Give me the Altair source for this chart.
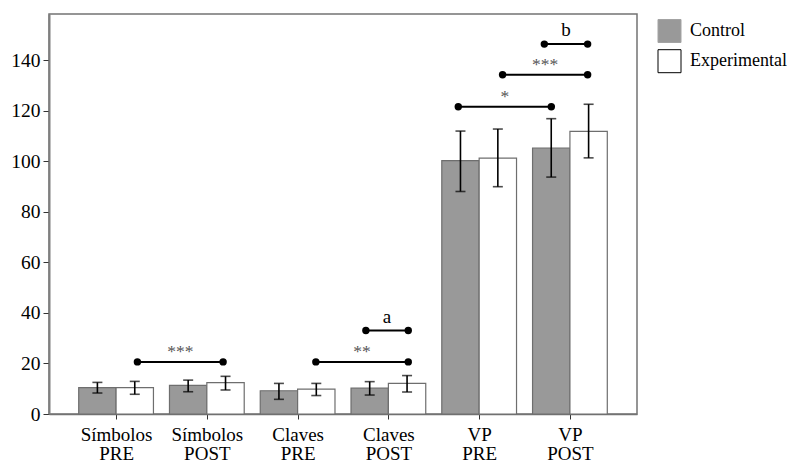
import json
import altair as alt
import pandas as pd

# ---- data ----
categories = [["Símbolos", "PRE"], ["Símbolos", "POST"], ["Claves", "PRE"],
              ["Claves", "POST"], ["VP", "PRE"], ["VP", "POST"]]
groups = ["Control", "Experimental"]

control_mean = [10.4, 11.3, 9.2, 10.2, 100.2, 105.2]
control_low = [8.3, 8.8, 5.8, 7.5, 88.0, 93.7]
control_high = [12.5, 13.4, 12.1, 12.8, 111.9, 116.8]

exp_mean = [10.4, 12.4, 9.8, 12.1, 101.2, 111.8]
exp_low = [7.8, 9.5, 7.3, 8.7, 89.9, 101.3]
exp_high = [12.9, 14.9, 12.1, 15.2, 112.7, 122.5]

bracket_labels = ["***", "**", "a", "*", "***", "b"]
bracket_y = [20.6, 20.6, 33.0, 121.5, 134.2, 146.3]
bracket_start = [0.235, 2.201, 2.752, 3.770, 4.258, 4.718]
bracket_end = [1.179, 3.219, 3.219, 4.795, 5.195, 5.195]

y_ticks = [0, 20, 40, 60, 80, 100, 120, 140]

# ---- tables ----
BW = 0.4117  # bar width in category units
rows = []
for i in range(len(categories)):
    for g, m, lo, hi in [("Control", control_mean[i], control_low[i], control_high[i]),
                         ("Experimental", exp_mean[i], exp_low[i], exp_high[i])]:
        xs = i - BW if g == "Control" else i
        rows.append({"cat": i, "group": g, "mean": m, "lo": lo, "hi": hi,
                     "xs": xs, "xe": xs + BW, "xc": xs + BW / 2})
bars = pd.DataFrame(rows)

br = pd.DataFrame({"label": bracket_labels, "y": bracket_y,
                   "x1": bracket_start, "x2": bracket_end})
br["xm"] = (br["x1"] + br["x2"]) / 2
br["kind"] = ["star" if "*" in s else "letter" for s in bracket_labels]
dots = pd.concat([br[["x1", "y"]].rename(columns={"x1": "x"}),
                  br[["x2", "y"]].rename(columns={"x2": "x"})])

FONT = "Liberation Serif"
xscale = alt.Scale(domain=[-0.739, 5.739], nice=False, zero=False)
yscale = alt.Scale(domain=[0, 158.2], nice=False, zero=True)
fill_scale = alt.Scale(domain=groups, range=["#999999", "#ffffff"])
stroke_scale = alt.Scale(domain=groups, range=["#a3a3a3", "#000000"])

label_arr = json.dumps(categories, ensure_ascii=False)
xaxis = alt.Axis(values=list(range(len(categories))), labelExpr=f"{label_arr}[datum.value]",
                 title=None, grid=False, labelFont=FONT, labelFontSize=19, labelColor="black",
                 labelLineHeight=19, labelPadding=6, tickSize=5, tickColor="#333333",
                 domainColor="#737373", domainWidth=1.5, labelBaseline="top")
yaxis = alt.Axis(values=y_ticks, title=None, grid=False, labelFont=FONT, labelFontSize=19.5,
                 labelColor="black", labelPadding=3, tickSize=6, tickColor="#333333",
                 domainColor="#7f7f7f", domainWidth=2)

legend_def = alt.Legend(title=None, orient="none", legendX=608.5, legendY=5,
                        symbolType="square", symbolSize=529, symbolStrokeWidth=1,
                        labelFont=FONT, labelFontSize=18, labelColor="black",
                        labelOffset=8.5, rowPadding=2.2, padding=0)

base = alt.Chart(bars)

bar_layer = base.mark_bar(stroke="#6e6e6e", strokeWidth=1.2).encode(
    x=alt.X("xs:Q", scale=xscale, axis=xaxis),
    x2="xe:Q",
    y=alt.Y("mean:Q", scale=yscale, axis=yaxis),
    y2=alt.datum(0),
    fill=alt.Fill("group:N", scale=fill_scale, legend=legend_def),
)

legend_layer = base.mark_square(size=0, filled=True, opacity=1).encode(
    x="xc:Q", y="mean:Q",
    fill=alt.Fill("group:N", scale=fill_scale, legend=legend_def),
    stroke=alt.Stroke("group:N", scale=stroke_scale, legend=legend_def),
)

err_rule = base.mark_rule(color="black", strokeWidth=1.6).encode(
    x="xc:Q", y="lo:Q", y2="hi:Q")
cap_lo = base.mark_tick(color="black", orient="horizontal", size=10, thickness=1.6).encode(
    x="xc:Q", y="lo:Q")
cap_hi = base.mark_tick(color="black", orient="horizontal", size=10, thickness=1.6).encode(
    x="xc:Q", y="hi:Q")

br_line = alt.Chart(br).mark_rule(color="black", strokeWidth=2).encode(
    x="x1:Q", x2="x2:Q", y="y:Q")
br_dots = alt.Chart(dots).mark_circle(color="black", size=55, opacity=1).encode(
    x="x:Q", y="y:Q")
br_star = alt.Chart(br).transform_filter("datum.kind == 'star'").mark_text(
    font=FONT, fontSize=17.5, color="#555555", dy=-5, baseline="alphabetic").encode(
    x="xm:Q", y="y:Q", text="label:N")
br_letter = alt.Chart(br).transform_filter("datum.kind == 'letter'").mark_text(
    font=FONT, fontSize=19, color="black", dy=-8, baseline="alphabetic").encode(
    x="xm:Q", y="y:Q", text="label:N")

chart = alt.layer(bar_layer, legend_layer, err_rule, cap_lo, cap_hi,
                  br_line, br_dots, br_star, br_letter).properties(
    width=588, height=400,
    padding={"left": 49, "top": 14, "right": 150, "bottom": 46},
    autosize=alt.AutoSizeParams(type="none"),
    background="white",
).configure_view(stroke="#737373", strokeWidth=1.5
).configure_axis(labelFont=FONT
).configure_legend(labelFont=FONT
).configure_text(font=FONT)

chart.save("out.html", embed_options={"renderer": "svg", "actions": False})
